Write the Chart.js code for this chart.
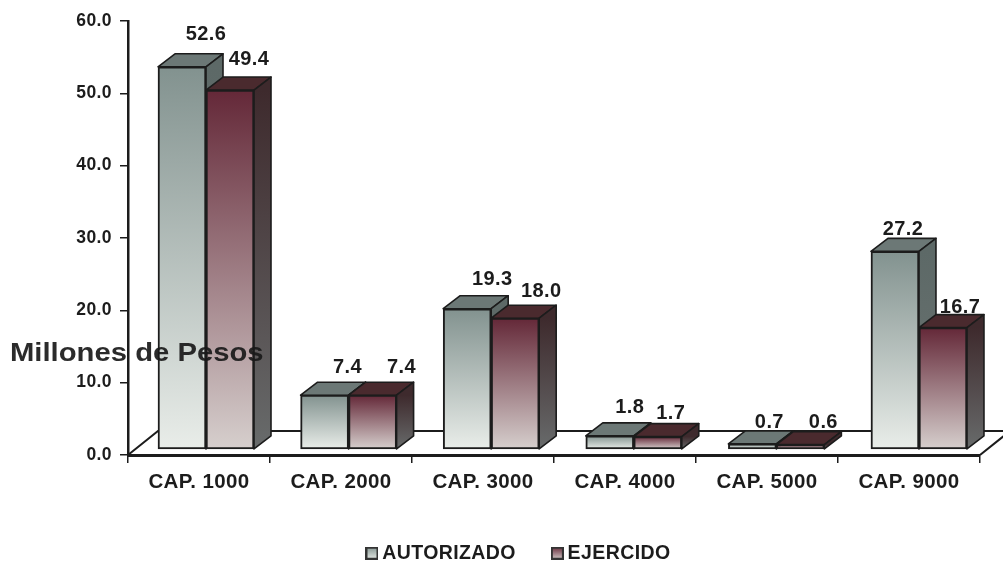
<!DOCTYPE html>
<html>
<head>
<meta charset="utf-8">
<style>
  html, body { margin: 0; padding: 0; background: #fff; }
  #wrap { width: 1003px; height: 563px; }
</style>
<script src="https://cdn.jsdelivr.net/npm/chart.js@4/dist/chart.umd.js"></script>
</head>
<body>
<div id="wrap"><canvas id="chart"></canvas></div>
<script>
const categories = ['CAP. 1000', 'CAP. 2000', 'CAP. 3000', 'CAP. 4000', 'CAP. 5000', 'CAP. 9000'];
const autorizado = [52.6, 7.4, 19.3, 1.8, 0.7, 27.2];
const ejercido = [49.4, 7.4, 18.0, 1.7, 0.6, 16.7];
const yTicks = [0, 10, 20, 30, 40, 50, 60];

// label nudges from the bar top, the original labels were placed by hand
const autorizadoNudge = [[24, -32], [23, -28], [25, -29], [20, -28], [17, -21], [8, -22]];
const ejercidoNudge = [[19, -31], [29, -28], [26, -27], [13, -23], [23, -22], [17, -20]];

const INK = '#1c1c1c';
const FONT = '"Liberation Sans", Arial, sans-serif';
const DEPTH = { x: 17, y: -13 };
const FLOOR = { x: 30, y: -24 };

const looks = [
  { hi: '#82928f', lo: '#e9ede9', top: '#6c7876', sideHi: '#5d6967', sideLo: '#6c7472', nudge: autorizadoNudge },
  { hi: '#642838', lo: '#d6cfcd', top: '#4a2a2e', sideHi: '#3e2a2d', sideLo: '#686b6b', nudge: ejercidoNudge }
];

function vGrad(ctx, yTop, yBottom, hi, lo) {
  const g = ctx.createLinearGradient(0, yTop, 0, yBottom);
  g.addColorStop(0, hi);
  g.addColorStop(1, lo);
  return g;
}

function frontFill(look) {
  return function (c) {
    if (c.type !== 'data' || !c.chart.scales.yb) return look.hi;
    const yb = c.chart.scales.yb;
    return vGrad(c.chart.ctx, yb.getPixelForValue(c.parsed.y), yb.getPixelForValue(0), look.hi, look.lo);
  };
}

function swatch(look) {
  const cv = document.createElement('canvas');
  cv.width = 13; cv.height = 13;
  const c = cv.getContext('2d');
  c.fillStyle = vGrad(c, 0, 13, look.hi, look.lo);
  c.fillRect(0, 0, 13, 13);
  c.strokeStyle = '#333';
  c.lineWidth = 2;
  c.strokeRect(1, 1, 11, 11);
  return cv;
}

function setSpacing(chart) { chart.ctx.letterSpacing = '0.4px'; }

const scene = {
  id: 'scene',
  beforeUpdate: setSpacing,
  beforeDraw: setSpacing,
  // legend is off centre in the original
  afterLayout(chart) {
    chart.legend.left += 31;
    chart.legend.right += 31;
  },
  // floor of the 3d box, behind everything
  beforeDatasetsDraw(chart) {
    const { ctx, scales: { x, y } } = chart;
    const y0 = y.getPixelForValue(0);
    ctx.save();
    ctx.strokeStyle = INK;
    ctx.lineWidth = 2;
    ctx.beginPath();
    ctx.moveTo(x.left, y0);
    ctx.lineTo(x.left + FLOOR.x, y0 + FLOOR.y);
    ctx.lineTo(x.right + FLOOR.x, y0 + FLOOR.y);
    ctx.moveTo(x.right, y0);
    ctx.lineTo(x.right + FLOOR.x, y0 + FLOOR.y);
    ctx.stroke();

    // top and side faces, fronts are then painted by the library on top
    ctx.lineWidth = 1.6;
    ctx.lineJoin = 'round';
    categories.forEach((_, i) => {
      looks.forEach((look, ds) => {
        const bar = chart.getDatasetMeta(ds).data[i];
        const l = bar.x - bar.width / 2, r = bar.x + bar.width / 2;
        const t = bar.y, b = bar.base;
        ctx.beginPath();
        ctx.moveTo(l, t);
        ctx.lineTo(l + DEPTH.x, t + DEPTH.y);
        ctx.lineTo(r + DEPTH.x, t + DEPTH.y);
        ctx.lineTo(r, t);
        ctx.closePath();
        ctx.fillStyle = look.top;
        ctx.fill();
        ctx.stroke();
        ctx.beginPath();
        ctx.moveTo(r, t);
        ctx.lineTo(r + DEPTH.x, t + DEPTH.y);
        ctx.lineTo(r + DEPTH.x, b + DEPTH.y);
        ctx.lineTo(r, b);
        ctx.closePath();
        ctx.fillStyle = vGrad(ctx, t, b, look.sideHi, look.sideLo);
        ctx.fill();
        ctx.stroke();
      });
    });
    ctx.restore();
  },
  afterDatasetsDraw(chart) {
    const ctx = chart.ctx;
    ctx.save();
    ctx.fillStyle = INK;
    ctx.font = 'bold 20px ' + FONT;
    ctx.textAlign = 'center';
    ctx.textBaseline = 'middle';
    looks.forEach((look, ds) => {
      chart.getDatasetMeta(ds).data.forEach((bar, i) => {
        const v = chart.data.datasets[ds].data[i].y;
        ctx.fillText(v.toFixed(1), bar.x + look.nudge[i][0], bar.y + look.nudge[i][1]);
      });
    });
    // axis title sits flat and runs over the first bars, as in the original
    const y = chart.scales.y;
    ctx.font = 'bold 25px ' + FONT;
    ctx.textAlign = 'left';
    ctx.fillStyle = 'rgba(25,25,25,0.92)';
    ctx.translate(10, y.getPixelForValue(14));
    ctx.scale(1.17, 1);
    ctx.letterSpacing = '0px';
    ctx.fillText('Millones de Pesos', 0, 0);
    ctx.restore();
  }
};

new Chart(document.getElementById('chart'), {
  type: 'bar',
  data: {
    labels: categories,
    datasets: [
      { label: 'AUTORIZADO', data: autorizado.map((v, i) => ({ x: i, y: v })), xAxisID: 'xb', yAxisID: 'yb',
        backgroundColor: frontFill(looks[0]), borderColor: INK, borderWidth: 2, borderSkipped: false, barThickness: 48 },
      { label: 'EJERCIDO', data: ejercido.map((v, i) => ({ x: i, y: v })), xAxisID: 'xb', yAxisID: 'yb',
        backgroundColor: frontFill(looks[1]), borderColor: INK, borderWidth: 2, borderSkipped: false, barThickness: 48 }
    ]
  },
  options: {
    responsive: true,
    maintainAspectRatio: false,
    animation: false,
    layout: { padding: { top: 21, right: 23, left: 0, bottom: -10 } },
    plugins: {
      tooltip: { enabled: false },
      legend: {
        position: 'bottom',
        labels: {
          usePointStyle: true,
          boxWidth: 1,
          padding: 41,
          color: INK,
          font: { family: FONT, size: 19.5, weight: 'bold' },
          generateLabels: () => [
            { text: 'AUTORIZADO', pointStyle: swatch(looks[0]), fontColor: INK, datasetIndex: 0 },
            { text: 'EJERCIDO', pointStyle: swatch(looks[1]), fontColor: INK, datasetIndex: 1 }
          ]
        }
      }
    },
    scales: {
      x: {
        type: 'category',
        offset: true,
        afterFit(s) { s.height = 47.5; },
        border: { color: INK, width: 3 },
        grid: { offset: true, drawOnChartArea: false, color: INK, tickLength: 8, lineWidth: 1.5 },
        ticks: { color: INK, maxRotation: 0, padding: 7, font: { family: FONT, size: 20.5, weight: 'bold' } }
      },
      y: {
        min: 0,
        max: 60,
        afterFit(s) { s.width = 128; },
        afterBuildTicks(s) { s.ticks = yTicks.map(v => ({ value: v })); },
        border: { color: INK, width: 2.5 },
        grid: { drawOnChartArea: false, color: INK, tickLength: 8, lineWidth: 1.5 },
        ticks: { color: INK, padding: 8, font: { family: FONT, size: 17.5, weight: 'bold' }, callback: v => v.toFixed(1) }
      },
      // hidden copies of the axes, shifted to the front of the 3d floor
      xb: { type: 'linear', display: false, offset: false, min: -0.547, max: 5.428 },
      yb: { display: false, min: -0.83, max: 58.9 }
    }
  },
  plugins: [scene]
});
</script>
</body>
</html>
